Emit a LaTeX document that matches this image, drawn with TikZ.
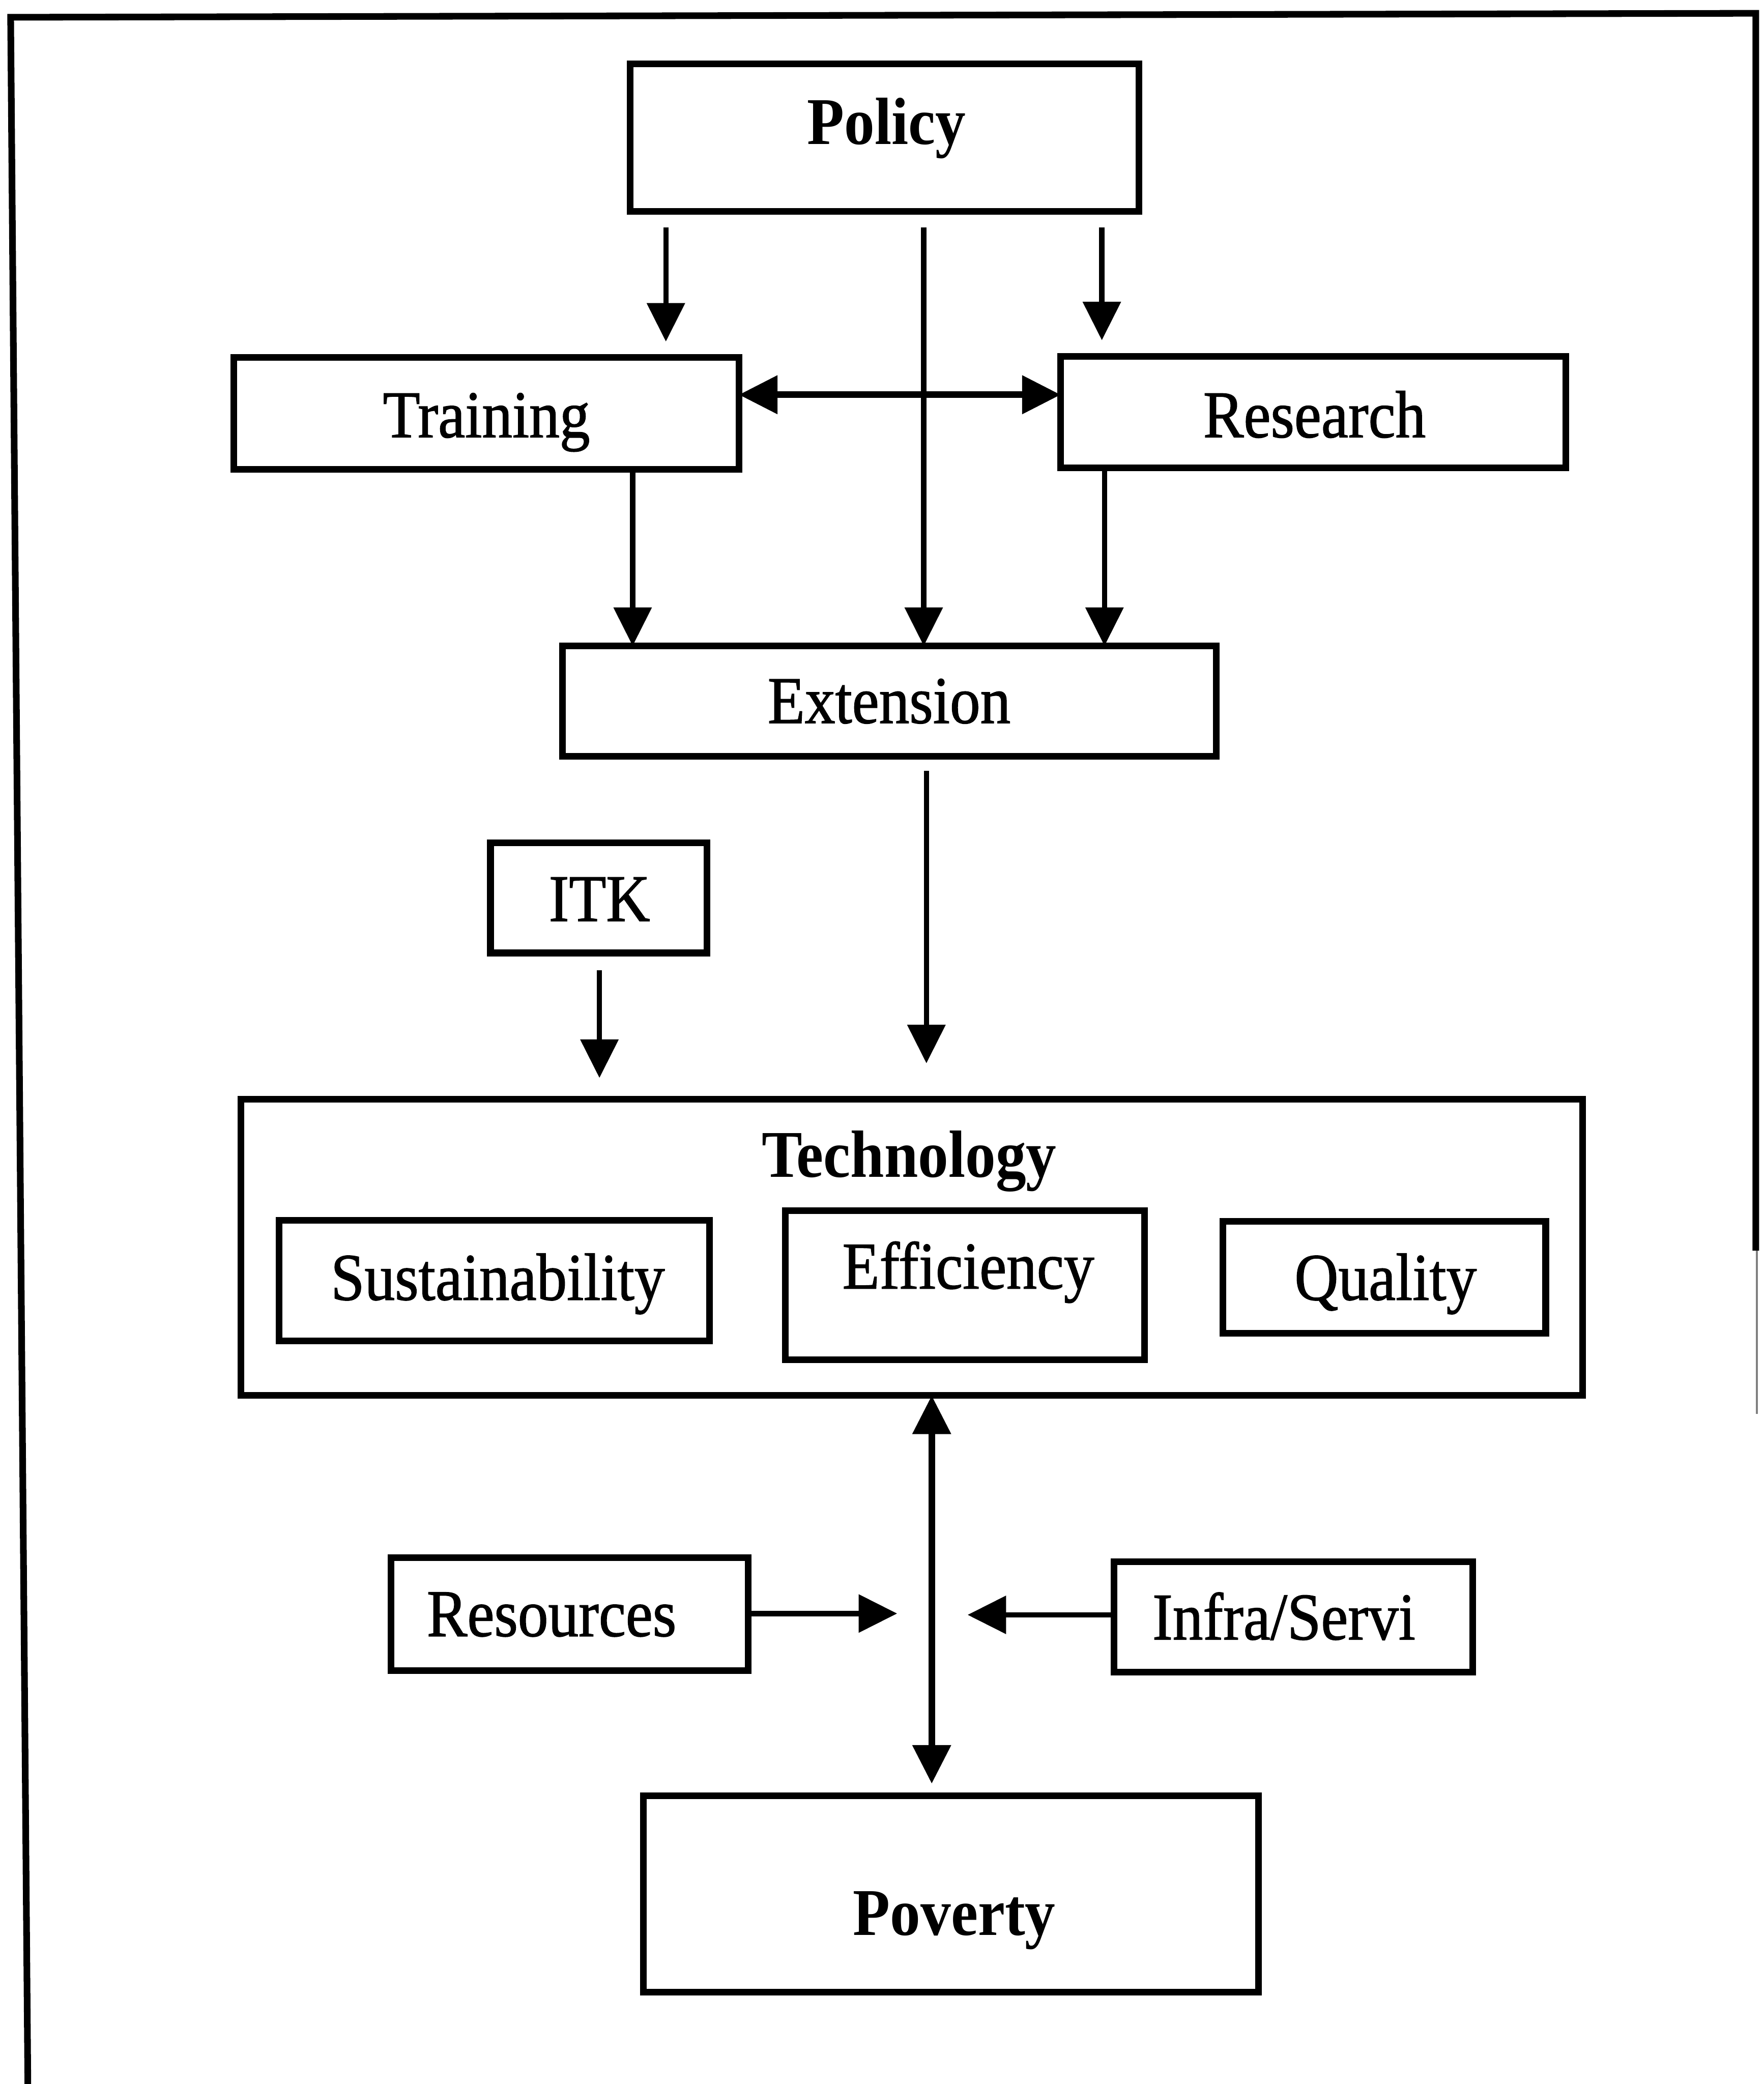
\documentclass[tikz,border=0pt]{standalone}
\usepackage{graphicx}
\usepackage{fontspec}
\setmainfont{Liberation Serif}
\newfontfamily\scanfont[FakeBold=1.2]{Liberation Serif}
\usetikzlibrary{arrows.meta}
\newcommand{\tallx}[1]{\scalebox{1}[1.1]{#1}}
\begin{document}
\begin{tikzpicture}[x=0.02cm,y=-0.02cm,
  box/.style={draw, line width=0.1cm, outer sep=0pt, inner sep=0pt},
  lbl/.style={anchor=base, inner sep=0pt, font=\fontsize{26}{30}\selectfont\scanfont},
  blbl/.style={anchor=base, inner sep=0pt, font=\fontsize{26}{30}\selectfont\bfseries},
  tip/.tip={Triangle[length=0.58cm,width=0.56cm]},
  arr/.style={line width=0.08cm, -tip},
  darr/.style={line width=0.1cm, tip-tip}]
\useasboundingbox (0,0) rectangle (1327,1568);
% outer frame
\draw[line width=0.1cm, line join=miter] (21,1575) -- (8,13) -- (1321,10) -- (1321,941);
\draw[gray, line width=0.03cm] (1322,941) -- (1322,1064);
% boxes
\node[box, minimum width=7.66cm, minimum height=2.22cm] (policy) at (665.5,103.5) {};
\node[box, minimum width=7.6cm, minimum height=1.68cm] (training) at (366,311) {};
\node[box, minimum width=7.6cm, minimum height=1.68cm] (research) at (988,310) {};
\node[box, minimum width=9.84cm, minimum height=1.66cm] (extension) at (669,527.5) {};
\node[box, minimum width=3.26cm, minimum height=1.66cm] (itk) at (450.5,675.5) {};
\node[box, minimum width=20.2cm, minimum height=4.46cm] (tech) at (686,938.5) {};
\node[box, minimum width=6.48cm, minimum height=1.82cm] (sust) at (372,963.5) {};
\node[box, minimum width=5.4cm, minimum height=2.24cm] (effi) at (726,967) {};
\node[box, minimum width=4.86cm, minimum height=1.68cm] (qual) at (1041.5,961) {};
\node[box, minimum width=5.38cm, minimum height=1.7cm] (reso) at (428.5,1214.5) {};
\node[box, minimum width=5.4cm, minimum height=1.66cm] (infra) at (973,1216.5) {};
\node[box, minimum width=9.26cm, minimum height=2.96cm] (poverty) at (715.5,1425) {};
% labels
\node[blbl] (policy-t) at (667,108.5) {\tallx{Policy}};
\node[lbl] (training-t) at (366,329) {\tallx{Training}};
\node[lbl] (research-t) at (989,329) {\tallx{Research}};
\node[lbl] (extension-t) at (669,544) {\tallx{Extension}};
\node[lbl] (itk-t) at (451,693) {\tallx{ITK}};
\node[blbl] (tech-t) at (684,885.5) {\tallx{Technology}};
\node[lbl] (sust-t) at (374.5,978) {\tallx{Sustainability}};
\node[lbl] (effi-t) at (728.5,969.5) {\tallx{Efficiency}};
\node[lbl] (qual-t) at (1042.5,978) {\tallx{Quality}};
\node[lbl] (reso-t) at (415,1231) {\tallx{Resources}};
\node[lbl] (infra-t) at (966,1233.5) {\tallx{Infra/Servi}};
\node[blbl] (poverty-t) at (718,1456) {\tallx{Poverty}};
% helper coordinates
\coordinate (xa) at (501,0);
\coordinate (xb) at (695,0);
\coordinate (xc) at (829,0);
\coordinate (xd) at (476,0);
\coordinate (xe) at (831,0);
\coordinate (xf) at (697,0);
\coordinate (xg) at (451,0);
\coordinate (xh) at (701,0);
\coordinate (hy) at (0,297);
\coordinate (rtip) at (675,1214);
\coordinate (itip) at (728,1215);
% connectors
\draw[arr] ([yshift=-0.24cm]policy.south -| xa) -- ([yshift=0.24cm]training.north -| xa);
\draw[arr] ([yshift=-0.24cm]policy.south -| xc) -- ([yshift=0.24cm]research.north -| xc);
\draw[arr] ([yshift=-0.24cm]policy.south -| xb) -- (extension.north -| xb);
\draw[darr] (training.east |- hy) -- (research.west |- hy);
\draw[arr] (training.south -| xd) -- (extension.north -| xd);
\draw[arr] (research.south -| xe) -- (extension.north -| xe);
\draw[arr] ([yshift=-0.22cm]extension.south -| xf) -- ([yshift=0.54cm]tech.north -| xf);
\draw[arr] ([yshift=-0.26cm]itk.south -| xg) -- ([yshift=0.32cm]tech.north -| xg);
\draw[darr] (tech.south -| xh) -- ([yshift=0.18cm]poverty.north -| xh);
\draw[arr] (reso.east |- rtip) -- (rtip);
\draw[arr] (infra.west |- itip) -- (itip);
\end{tikzpicture}
\end{document}
